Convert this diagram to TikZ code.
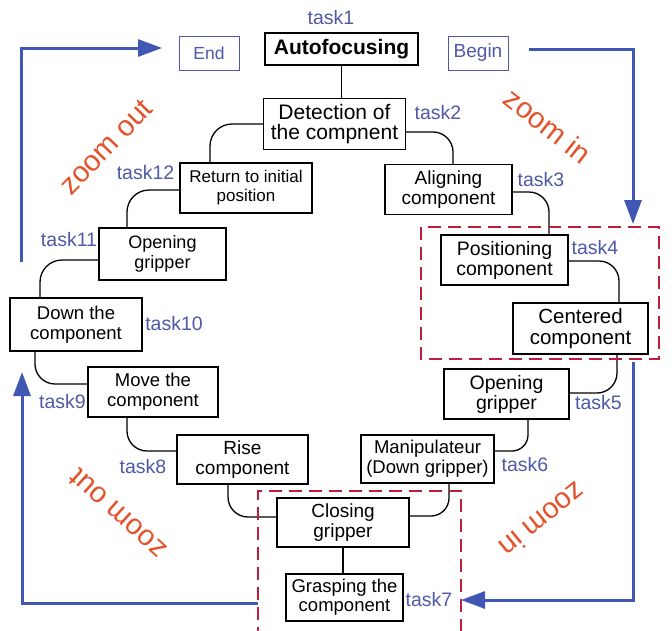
\documentclass[tikz,border=0pt]{standalone}
\usepackage{fontspec}
\setmainfont{Liberation Sans}
\usetikzlibrary{arrows.meta}
\definecolor{tblue}{HTML}{5058A8}
\definecolor{ablue}{HTML}{4058B4}
\definecolor{zorange}{HTML}{E4522A}
\definecolor{dred}{HTML}{BE1E3A}
\newcommand{\fsz}[2]{\fontsize{#1}{#2}\selectfont}
\begin{document}
\begin{tikzpicture}[x=1pt,y=-1pt,
  box/.style={draw, line width=1.1pt, align=center, inner sep=0pt},
  bluebox/.style={draw=tblue, line width=1pt, text=tblue, inner sep=0pt},
  tasklbl/.style={text=tblue, inner sep=0pt, font=\fsz{19.5}{20}},
  conn/.style={line width=1.3pt, rounded corners=#1},
  barrow/.style={draw=ablue, line width=3pt, -{Triangle[length=24pt,width=17pt]}},
  zoomtxt/.style={text=zorange, inner sep=0pt, font=\fsz{29}{30}},
  redbox/.style={draw=dred, line width=2.3pt, dash pattern=on 13pt off 7pt}]
\path[clip] (0,0) rectangle (672,630);
\fill[white] (0,0) rectangle (672,630);

% boxes
\node[box, minimum width=153pt, minimum height=32pt, font=\bfseries\fsz{21}{22}] (auto) at (341.5,49) {Autofocusing};
\node[box, minimum width=142pt, minimum height=51pt, font=\fsz{21}{20}] (det) at (334.5,124) {Detection of\\the compnent};
\node[box, minimum width=127pt, minimum height=50pt, font=\fsz{19}{20}] (align) at (448.5,189.5) {Aligning\\component};
\node[box, minimum width=132pt, minimum height=50pt, font=\fsz{17}{19}] (ret) at (246,188) {Return to initial\\position};
\node[box, minimum width=127pt, minimum height=52pt, font=\fsz{18}{20}] (openL) at (162.5,254) {Opening\\gripper};
\node[box, minimum width=132pt, minimum height=53pt, font=\fsz{18.5}{20}] (down) at (76,324.5) {Down the\\component};
\node[box, minimum width=130pt, minimum height=50pt, font=\fsz{18.5}{20}] (move) at (153,392) {Move the\\component};
\node[box, minimum width=131pt, minimum height=49pt, font=\fsz{19}{20}] (rise) at (242.5,459.5) {Rise\\component};
\node[box, minimum width=132pt, minimum height=49pt, font=\fsz{19}{20}] (close) at (343,522.5) {Closing\\gripper};
\node[box, minimum width=117pt, minimum height=47pt, font=\fsz{18.5}{19}] (grasp) at (344.5,597.5) {Grasping the\\component};
\node[box, minimum width=133pt, minimum height=48pt, font=\fsz{18.5}{20}] (manip) at (427.5,459) {Manipulateur\\(Down gripper)};
\node[box, minimum width=125pt, minimum height=50pt, font=\fsz{19.5}{20}] (openR) at (506.5,394) {Opening\\gripper};
\node[box, minimum width=127pt, minimum height=50pt, font=\fsz{19.5}{20}] (pos) at (504.5,260) {Positioning\\component};
\node[box, minimum width=135pt, minimum height=51pt, font=\fsz{20.5}{21}] (cent) at (580.5,328.5) {Centered\\component};

\node[bluebox, minimum width=60pt, minimum height=34pt, font=\fsz{17.5}{18}] (endb) at (209,53) {End};
\node[bluebox, minimum width=60pt, minimum height=34pt, font=\fsz{19}{19}] (begb) at (478,53) {Begin};

% task labels
\node[tasklbl] (t1) at (331,18) {task1};
\node[tasklbl] (t2) at (438,113) {task2};
\node[tasklbl] (t3) at (541,180) {task3};
\node[tasklbl] (t4) at (595,248) {task4};
\node[tasklbl] (t5) at (598.5,403) {task5};
\node[tasklbl] (t6) at (525,465) {task6};
\node[tasklbl] (t7) at (429,600) {task7};
\node[tasklbl] (t8) at (143,467) {task8};
\node[tasklbl] (t9) at (62.5,402) {task9};
\node[tasklbl] (t10) at (174,324) {task10};
\node[tasklbl] (t11) at (69,240) {task11};
\node[tasklbl] (t12) at (145.5,173) {task12};

% connectors
\draw[conn=0pt] (auto.south) -- (auto.south |- det.north);
\draw[conn=20pt] ([yshift=-8pt]det.east) -| ([xshift=4.5pt]align.north);
\draw[conn=22pt] (det.west) -| ([xshift=-36pt]ret.north);
\draw[conn=22pt] ([yshift=-2pt]ret.west) -| ([xshift=-35.5pt]openL.north);
\draw[conn=22pt] ([yshift=-6pt]openL.west) -| ([xshift=-36pt]down.north);
\draw[conn=20pt] ([xshift=-41pt]down.south) |- ([yshift=8pt]move.west);
\draw[conn=20pt] ([xshift=-26pt]move.south) |- ([yshift=8.5pt]rise.west);
\draw[conn=20pt] ([xshift=-14.5pt]rise.south) |- ([yshift=5.5pt]close.west);
\draw[conn=0pt] (close.south) -- (close.south |- grasp.north);
\draw[conn=20pt] ([yshift=-2.5pt]align.east) -| ([xshift=44.5pt]pos.north);
\draw[conn=20pt] ([yshift=-1pt]pos.east) -| ([xshift=38.5pt]cent.north);
\draw[conn=20pt] ([xshift=36.5pt]cent.south) |- ([yshift=1pt]openR.east);
\draw[conn=16pt] ([xshift=21.5pt]openR.south) |- ([yshift=8pt]manip.east);
\draw[conn=18pt] ([xshift=21.5pt]manip.south) |- ([yshift=6.5pt]close.east);

% red dashed boxes
\draw[redbox] (421,227) rectangle (659,359);
\draw[redbox] (258,640) -- (258,491) -- (461,491) -- (461,640);

% blue arrows
\coordinate (tlA) at (21,262);
\coordinate (tlB) at (21,48);
\coordinate (tlC) at (162,48);
\draw[barrow] (tlA) -- (tlB) -- (tlC);
\coordinate (trA) at (529,49);
\coordinate (trB) at (633,49);
\coordinate (trC) at (633,224);
\draw[barrow] (trA) -- (trB) -- (trC);
\coordinate (brA) at (633,362);
\coordinate (brB) at (633,600);
\coordinate (brC) at (461,600);
\draw[barrow] (brA) -- (brB) -- (brC);
\coordinate (blA) at (258,603);
\coordinate (blB) at (22,603);
\coordinate (blC) at (22,372);
\draw[barrow] (blA) -- (blB) -- (blC);

% zoom texts
\node[zoomtxt, rotate=46] (zo1) at (106,147) {zoom out};
\node[zoomtxt, rotate=-38] (zi1) at (548,126) {zoom in};
\node[zoomtxt, rotate=138] (zo2) at (118,514) {zoom out};
\node[zoomtxt, rotate=219] (zi2) at (543,520) {zoom in};
\end{tikzpicture}
\end{document}
